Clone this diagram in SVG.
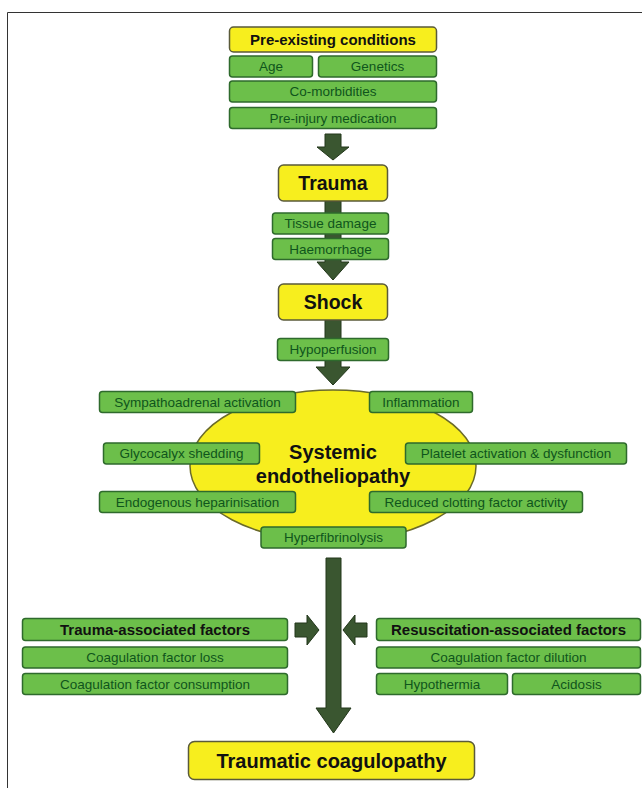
<svg xmlns="http://www.w3.org/2000/svg" width="642" height="788" viewBox="0 0 642 788">
<style>
.y{fill:#f7ee1e;stroke:#5a5a3a;stroke-width:1.5}
.g{fill:#6cbf4a;stroke:#2e6a2c;stroke-width:1.5}
.gt{font-family:"Liberation Sans",Arial,sans-serif;font-size:13.5px;fill:#0f551c;text-anchor:middle}
.bt{font-family:"Liberation Sans",Arial,sans-serif;font-weight:bold;fill:#111;text-anchor:middle}
.ar{fill:#3a5630;stroke:#22361a;stroke-width:1}
</style>
<rect width="642" height="788" fill="#fff"/>
<path d="M7.5 788V12.5H642" fill="none" stroke="#333" stroke-width="1"/>
<g id="connectors">
<path class="ar" d="M325 134h16v13h8l-16 13l-16-13h8z"/>
<path class="ar" d="M325 201h16v61h8l-16 18l-16-18h8z"/>
<path class="ar" d="M325 320h16v47h9l-17 18l-17-18h9z"/>
<path class="ar" d="M326 558h15v150h10l-17.5 25l-17.5-25h10z"/>
<path class="ar" d="M295 623h12v-8l12 15l-12 15v-8h-12z"/>
<path class="ar" d="M367 623h-12v-8l-12 15l12 15v-8h12z"/>
</g>
<g id="pre-existing"><rect class="y" x="229.5" y="27" width="207" height="25" rx="4"/><text class="bt" x="333" y="45" font-size="15">Pre-existing conditions</text></g>
<g id="age"><rect class="g" x="229.5" y="56" width="83" height="21" rx="3"/><text class="gt" x="271" y="71">Age</text></g>
<g id="genetics"><rect class="g" x="318.5" y="56" width="118" height="21" rx="3"/><text class="gt" x="377.5" y="71">Genetics</text></g>
<g id="comorbidities"><rect class="g" x="229.5" y="81" width="207" height="21" rx="3"/><text class="gt" x="333" y="96">Co-morbidities</text></g>
<g id="preinjury"><rect class="g" x="229.5" y="107.5" width="207" height="21" rx="3"/><text class="gt" x="333" y="122.5">Pre-injury medication</text></g>
<g id="trauma"><rect class="y" x="278.5" y="165" width="109" height="36" rx="5"/><text class="bt" x="333" y="190" font-size="19.5">Trauma</text></g>
<g id="tissue"><rect class="g" x="272.5" y="213" width="116" height="21" rx="3"/><text class="gt" x="330.5" y="228">Tissue damage</text></g>
<g id="haemorrhage"><rect class="g" x="272.5" y="238.5" width="116" height="21" rx="3"/><text class="gt" x="330.5" y="253.5">Haemorrhage</text></g>
<g id="shock"><rect class="y" x="278.5" y="284" width="109" height="36" rx="5"/><text class="bt" x="333" y="309" font-size="19.5">Shock</text></g>
<g id="hypoperfusion"><rect class="g" x="277.5" y="338.5" width="111" height="22" rx="3"/><text class="gt" x="333" y="354">Hypoperfusion</text></g>
<g id="endotheliopathy"><ellipse cx="333" cy="466" rx="143" ry="76" fill="#f7ee1e" stroke="#6a6a2a" stroke-width="1.5"/><text class="bt" x="333" y="459" font-size="20">Systemic</text><text class="bt" x="333" y="483" font-size="20">endotheliopathy</text></g>
<g id="sympathoadrenal"><rect class="g" x="99.5" y="391.5" width="196" height="21" rx="3"/><text class="gt" x="197.5" y="406.5">Sympathoadrenal activation</text></g>
<g id="inflammation"><rect class="g" x="369.5" y="391.5" width="103" height="21" rx="3"/><text class="gt" x="421" y="406.5">Inflammation</text></g>
<g id="glycocalyx"><rect class="g" x="103.5" y="443" width="156" height="21" rx="3"/><text class="gt" x="181.5" y="458">Glycocalyx shedding</text></g>
<g id="platelet"><rect class="g" x="405.5" y="443" width="221" height="21" rx="3"/><text class="gt" x="516" y="458">Platelet activation &amp; dysfunction</text></g>
<g id="heparinisation"><rect class="g" x="99.5" y="491.5" width="196" height="21" rx="3"/><text class="gt" x="197.5" y="506.5">Endogenous heparinisation</text></g>
<g id="reduced"><rect class="g" x="369.5" y="491.5" width="213" height="21" rx="3"/><text class="gt" x="476" y="506.5">Reduced clotting factor activity</text></g>
<g id="hyperfibrinolysis"><rect class="g" x="261" y="527" width="145" height="21" rx="3"/><text class="gt" x="333.5" y="542">Hyperfibrinolysis</text></g>
<g id="trauma-assoc"><rect class="g" x="22.5" y="618.5" width="265" height="22" rx="3"/><text class="bt" x="155" y="635" font-size="15">Trauma-associated factors</text></g>
<g id="factor-loss"><rect class="g" x="22.5" y="647" width="265" height="21" rx="3"/><text class="gt" x="155" y="662">Coagulation factor loss</text></g>
<g id="factor-consumption"><rect class="g" x="22.5" y="673.5" width="265" height="21" rx="3"/><text class="gt" x="155" y="688.5">Coagulation factor consumption</text></g>
<g id="resus-assoc"><rect class="g" x="376.5" y="618.5" width="264" height="22" rx="3"/><text class="bt" x="508.5" y="635" font-size="15">Resuscitation-associated factors</text></g>
<g id="factor-dilution"><rect class="g" x="376.5" y="647" width="264" height="21" rx="3"/><text class="gt" x="508.5" y="662">Coagulation factor dilution</text></g>
<g id="hypothermia"><rect class="g" x="376.5" y="673.5" width="131" height="21" rx="3"/><text class="gt" x="442" y="688.5">Hypothermia</text></g>
<g id="acidosis"><rect class="g" x="512.5" y="673.5" width="128" height="21" rx="3"/><text class="gt" x="576.5" y="688.5">Acidosis</text></g>
<g id="coagulopathy"><rect class="y" x="188.5" y="741.5" width="286" height="38" rx="6"/><text class="bt" x="331.5" y="768" font-size="20">Traumatic coagulopathy</text></g>
</svg>
